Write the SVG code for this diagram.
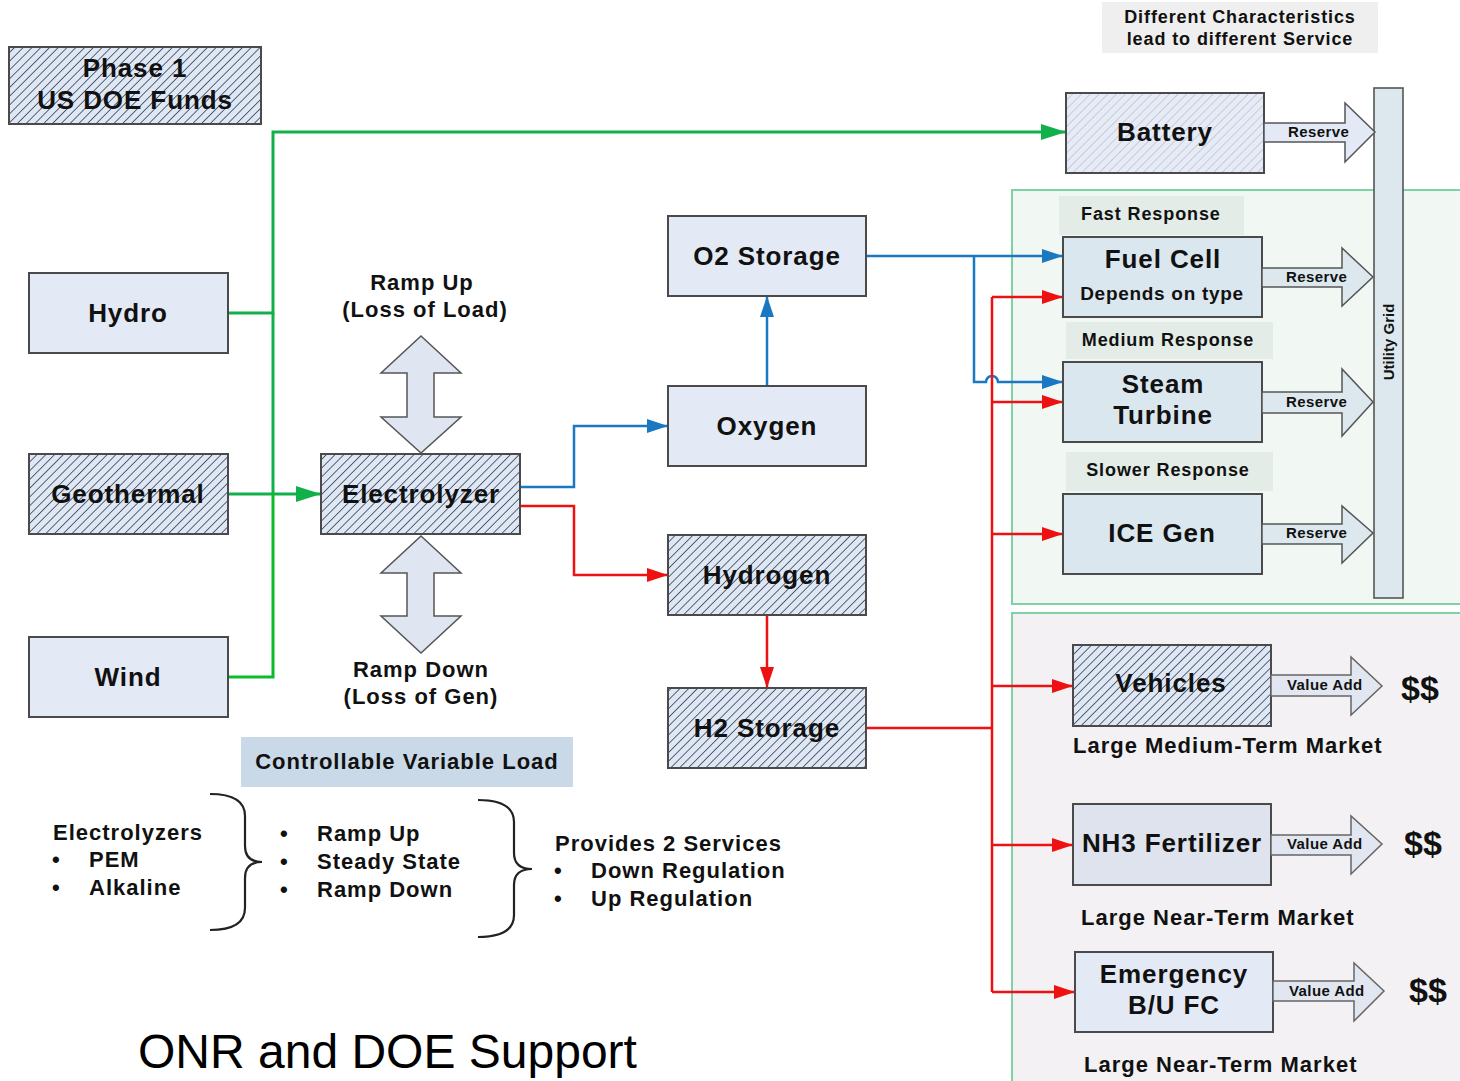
<svg xmlns="http://www.w3.org/2000/svg" width="1460" height="1081" viewBox="0 0 1460 1081">
<defs>
<pattern id="hatch" patternUnits="userSpaceOnUse" width="6.2" height="6.2" patternTransform="rotate(45)">
<rect width="6.2" height="6.2" fill="#dfe7f3"/>
<line x1="0" y1="0" x2="0" y2="6.2" stroke="#33425f" stroke-width="1.6"/>
</pattern>
<pattern id="hatchLight" patternUnits="userSpaceOnUse" width="6.2" height="6.2" patternTransform="rotate(45)">
<rect width="6.2" height="6.2" fill="#e6ebf6"/>
<line x1="0" y1="0" x2="0" y2="6.2" stroke="#b3bccd" stroke-width="1.3"/>
</pattern>
<marker id="ag" markerUnits="userSpaceOnUse" markerWidth="26" markerHeight="16" refX="25" refY="8" orient="auto">
<path d="M0,0 L25,8 L0,16 Z" fill="#12b04a"/>
</marker>
<marker id="ag2" markerUnits="userSpaceOnUse" markerWidth="26" markerHeight="16" refX="25" refY="8" orient="auto">
<path d="M0,0 L25,8 L0,16 Z" fill="#0cbc2a"/>
</marker>
<marker id="ab" markerUnits="userSpaceOnUse" markerWidth="22" markerHeight="14" refX="21" refY="7" orient="auto">
<path d="M0,0 L21,7 L0,14 Z" fill="#1a78c2"/>
</marker>
<marker id="ar" markerUnits="userSpaceOnUse" markerWidth="22" markerHeight="14" refX="21" refY="7" orient="auto">
<path d="M0,0 L21,7 L0,14 Z" fill="#ee1111"/>
</marker>
<style>
.node{stroke:#4a4a4a;stroke-width:2}
.plain{fill:#e3eaf5}
.grid{fill:#dbe7ee}
.hat{fill:url(#hatch)}
.t{font-family:"Liberation Sans",Arial,sans-serif;font-weight:bold;fill:#111}
.lbl{font-size:26px;letter-spacing:0.9px;text-anchor:middle}
.sm{font-size:22px;letter-spacing:1px}
.xs{font-size:18px;letter-spacing:0.9px}
.res{font-size:15px;letter-spacing:0.4px}
.big{fill:#dfe6f1;stroke:#555;stroke-width:1.5}
.gl{fill:none;stroke:#12b04a;stroke-width:3}
.gl2{fill:none;stroke:#0cbc2a;stroke-width:3}
.bl{fill:none;stroke:#1a78c2;stroke-width:2.5}
.rl{fill:none;stroke:#ee1111;stroke-width:2.5}
.brace{fill:none;stroke:#222;stroke-width:2.2}
</style>
</defs>
<rect width="1460" height="1081" fill="#ffffff"/>

<!-- background regions -->
<g id="region-grid">
<rect x="1012" y="190" width="452" height="414" fill="#f1f8f4" stroke="#7fd3a2" stroke-width="2"/>
</g>
<g id="region-market">
<rect x="1012" y="613" width="452" height="472" fill="#f3f1f4" stroke="#7fd3a2" stroke-width="2"/>
</g>

<g id="note-characteristics">
<rect x="1102" y="2" width="276" height="51" fill="#efefef"/>
<text class="t xs" x="1240" y="23" text-anchor="middle">Different Characteristics</text>
<text class="t xs" x="1240" y="45" text-anchor="middle">lead to different Service</text>
</g>

<g id="phase1">
<rect class="node hat" x="9" y="47" width="252" height="77"/>
<text class="t lbl" x="135" y="77">Phase 1</text>
<text class="t lbl" x="135" y="109">US DOE Funds</text>
</g>

<!-- connectors -->
<g id="connectors">
<path class="gl" d="M228,313 H273 V132 H1066" marker-end="url(#ag)"/>
<path class="gl" d="M273,313 V494"/>
<path class="gl" d="M228,494 H321" marker-end="url(#ag)"/>
<path class="gl2" d="M228,677 H273 V494"/>
<path class="bl" d="M520,487 H574 V426 H668" marker-end="url(#ab)"/>
<path class="rl" d="M520,506 H574 V575 H668" marker-end="url(#ar)"/>
<path class="bl" d="M767,386 V296" marker-end="url(#ab)"/>
<path class="rl" d="M767,615 V688" marker-end="url(#ar)"/>
<path class="bl" d="M866,256 H1063" marker-end="url(#ab)"/>
<path class="bl" d="M974,256 V382 H986 A6,6 0 0 1 998,382 H1063" marker-end="url(#ab)"/>
<path class="rl" d="M866,728 H992"/>
<path class="rl" d="M992,297 V992"/>
<path class="rl" d="M992,297 H1063" marker-end="url(#ar)"/>
<path class="rl" d="M992,402 H1063" marker-end="url(#ar)"/>
<path class="rl" d="M992,534 H1063" marker-end="url(#ar)"/>
<path class="rl" d="M992,686 H1073" marker-end="url(#ar)"/>
<path class="rl" d="M992,845 H1073" marker-end="url(#ar)"/>
<path class="rl" d="M992,992 H1075" marker-end="url(#ar)"/>
</g>

<!-- sources -->
<g id="hydro">
<rect class="node plain" x="29" y="273" width="199" height="80"/>
<text class="t lbl" x="128" y="322">Hydro</text>
</g>
<g id="geothermal">
<rect class="node hat" x="29" y="454" width="199" height="80"/>
<text class="t lbl" x="128" y="503">Geothermal</text>
</g>
<g id="wind">
<rect class="node plain" x="29" y="637" width="199" height="80"/>
<text class="t lbl" x="128" y="686">Wind</text>
</g>

<g id="electrolyzer">
<rect class="node hat" x="321" y="454" width="199" height="80"/>
<text class="t lbl" x="421" y="503">Electrolyzer</text>
</g>

<g id="ramp-up">
<polygon class="big" points="421,336 461,373 434,373 434,417 461,417 421,453 381,417 407,417 407,373 381,373"/>
<text class="t sm" x="422" y="290" text-anchor="middle">Ramp Up</text>
<text class="t sm" x="425" y="317" text-anchor="middle">(Loss of Load)</text>
</g>
<g id="ramp-down">
<polygon class="big" points="421,536 461,573 434,573 434,616 461,616 421,653 381,616 407,616 407,573 381,573"/>
<text class="t sm" x="421" y="677" text-anchor="middle">Ramp Down</text>
<text class="t sm" x="421" y="704" text-anchor="middle">(Loss of Gen)</text>
</g>

<g id="o2-storage">
<rect class="node plain" x="668" y="216" width="198" height="80"/>
<text class="t lbl" x="767" y="265">O2 Storage</text>
</g>
<g id="oxygen">
<rect class="node plain" x="668" y="386" width="198" height="80"/>
<text class="t lbl" x="767" y="435">Oxygen</text>
</g>
<g id="hydrogen">
<rect class="node hat" x="668" y="535" width="198" height="80"/>
<text class="t lbl" x="767" y="584">Hydrogen</text>
</g>
<g id="h2-storage">
<rect class="node hat" x="668" y="688" width="198" height="80"/>
<text class="t lbl" x="767" y="737">H2 Storage</text>
</g>

<!-- grid side -->
<g id="utility-grid">
<rect x="1374" y="88" width="29" height="510" fill="#dde8ee" stroke="#555" stroke-width="1.6"/>
<text class="t" font-size="15" transform="translate(1394,342) rotate(-90)" text-anchor="middle">Utility Grid</text>
</g>

<g id="battery">
<rect class="node" fill="url(#hatchLight)" x="1066" y="93" width="198" height="80"/>
<text class="t lbl" x="1165" y="141">Battery</text>
<polygon points="1264,123 1345,123 1345,103 1375,132 1345,162 1345,142 1264,142" fill="#e3eaf5" stroke="#555" stroke-width="1.5"/>
<text class="t res" x="1288" y="137">Reserve</text>
</g>

<g id="fuel-cell">
<rect x="1059" y="196" width="185" height="39" fill="#e3ece7"/>
<text class="t xs" x="1081" y="220">Fast Response</text>
<rect class="node grid" x="1063" y="237" width="199" height="80"/>
<text class="t lbl" x="1163" y="268">Fuel Cell</text>
<text class="t" font-size="19" letter-spacing="0.7" x="1162" y="300" text-anchor="middle">Depends on type</text>
<polygon points="1262,268 1342,268 1342,248 1373,277 1342,306 1342,287 1262,287" fill="#dde8ee" stroke="#555" stroke-width="1.5"/>
<text class="t res" x="1286" y="282">Reserve</text>
</g>

<g id="steam-turbine">
<rect x="1066" y="322" width="207" height="37" fill="#e3ece7"/>
<text class="t xs" x="1168" y="346" text-anchor="middle">Medium Response</text>
<rect class="node grid" x="1063" y="362" width="199" height="80"/>
<text class="t lbl" x="1163" y="393">Steam</text>
<text class="t lbl" x="1163" y="424">Turbine</text>
<polygon points="1262,392 1342,392 1342,369 1373,402 1342,436 1342,413 1262,413" fill="#dde8ee" stroke="#555" stroke-width="1.5"/>
<text class="t res" x="1286" y="407">Reserve</text>
</g>

<g id="ice-gen">
<rect x="1066" y="452" width="207" height="39" fill="#e3ece7"/>
<text class="t xs" x="1168" y="476" text-anchor="middle">Slower Response</text>
<rect class="node grid" x="1063" y="494" width="199" height="80"/>
<text class="t lbl" x="1162" y="542">ICE Gen</text>
<polygon points="1262,524 1342,524 1342,506 1373,533 1342,563 1342,544 1262,544" fill="#dde8ee" stroke="#555" stroke-width="1.5"/>
<text class="t res" x="1286" y="538">Reserve</text>
</g>

<!-- markets -->
<g id="vehicles">
<rect class="node hat" x="1073" y="645" width="198" height="81"/>
<text class="t lbl" x="1171" y="692" fill="#222">Vehicles</text>
<polygon points="1271,675 1351,675 1351,657 1382,686 1351,715 1351,696 1271,696" fill="#e1e6f0" stroke="#666" stroke-width="1.5"/>
<text class="t res" x="1287" y="690">Value Add</text>
<text class="t" font-size="34" x="1401" y="700">$$</text>
<text class="t sm" x="1073" y="753" fill="#222">Large Medium-Term Market</text>
</g>

<g id="nh3-fertilizer">
<rect class="node" fill="#dfe3ee" x="1073" y="804" width="198" height="81"/>
<text class="t lbl" x="1172" y="852" fill="#222">NH3 Fertilizer</text>
<polygon points="1271,835 1351,835 1351,816 1382,844 1351,874 1351,855 1271,855" fill="#e1e6f0" stroke="#666" stroke-width="1.5"/>
<text class="t res" x="1287" y="849">Value Add</text>
<text class="t" font-size="34" x="1404" y="855">$$</text>
<text class="t sm" x="1081" y="925" fill="#222">Large Near-Term Market</text>
</g>

<g id="emergency-fc">
<rect class="node plain" x="1075" y="952" width="198" height="80"/>
<text class="t lbl" x="1174" y="983">Emergency</text>
<text class="t lbl" x="1174" y="1014">B/U FC</text>
<polygon points="1273,981 1354,981 1354,963 1384,991 1354,1021 1354,1001 1273,1001" fill="#e1e6f0" stroke="#666" stroke-width="1.5"/>
<text class="t res" x="1289" y="996">Value Add</text>
<text class="t" font-size="34" x="1409" y="1002">$$</text>
<text class="t sm" x="1084" y="1072" fill="#222">Large Near-Term Market</text>
</g>

<!-- controllable variable load notes -->
<g id="cvl">
<rect x="241" y="737" width="332" height="50" fill="#c9d9e7"/>
<text class="t sm" x="407" y="769" text-anchor="middle" fill="#1e4d1e">Controllable Variable Load</text>
</g>

<g id="notes">
<text class="t sm" x="53" y="840">Electrolyzers</text>
<text class="t sm" x="52" y="867">•</text>
<text class="t sm" x="89" y="867">PEM</text>
<text class="t sm" x="52" y="895">•</text>
<text class="t sm" x="89" y="895">Alkaline</text>
<path class="brace" d="M210,794 Q245,794 245,816 L245,846 Q245,862 262,862 Q245,862 245,878 L245,908 Q245,930 210,930"/>
<text class="t sm" x="280" y="841">•</text>
<text class="t sm" x="317" y="841">Ramp Up</text>
<text class="t sm" x="280" y="869">•</text>
<text class="t sm" x="317" y="869">Steady State</text>
<text class="t sm" x="280" y="897">•</text>
<text class="t sm" x="317" y="897">Ramp Down</text>
<path class="brace" d="M478,800 Q514,800 514,822 L514,853 Q514,869 532,869 Q514,869 514,885 L514,915 Q514,937 478,937"/>
<text class="t sm" x="555" y="851">Provides 2 Services</text>
<text class="t sm" x="554" y="878">•</text>
<text class="t sm" x="591" y="878">Down Regulation</text>
<text class="t sm" x="554" y="906">•</text>
<text class="t sm" x="591" y="906">Up Regulation</text>
</g>

<g id="footer">
<text x="138" y="1068" font-family="Liberation Sans, Arial, sans-serif" font-size="48" fill="#000">ONR and DOE Support</text>
</g>
</svg>
